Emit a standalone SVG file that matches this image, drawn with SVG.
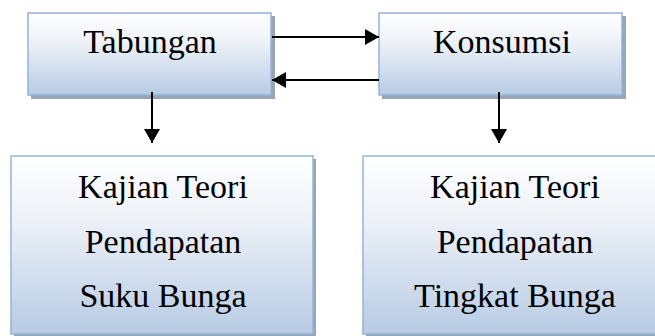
<svg xmlns="http://www.w3.org/2000/svg" width="655" height="336" viewBox="0 0 655 336">
<style>
.box{fill:url(#g);stroke:#95B3D7;stroke-width:1.5}
.sh{fill:#97A5B8}
.t{font-family:"Liberation Serif","Noto Serif","DejaVu Serif",Tinos,"Times New Roman",Times,FreeSerif,serif;font-size:34px;fill:#000;text-anchor:middle}
.c{stroke:#000;stroke-width:2;fill:none}
</style>
<defs>
<linearGradient id="g" x1="0" y1="0" x2="0" y2="1">
<stop offset="0" stop-color="#FFFFFF"/>
<stop offset="0.35" stop-color="#EEF2F8"/>
<stop offset="1" stop-color="#B7CBE4"/>
</linearGradient>
<marker id="a" viewBox="0 0 14 16" refX="14" refY="8" markerWidth="14" markerHeight="16" markerUnits="userSpaceOnUse" orient="auto">
<path d="M0,0 L14,8 L0,16 Z" fill="#000"/>
</marker>
</defs>
<g id="tabungan">
<rect class="sh" x="31" y="16" width="244" height="83"/>
<rect class="box" x="28" y="13" width="243" height="82"/>
<text class="t" x="150" y="53">Tabungan</text>
</g>
<g id="konsumsi">
<rect class="sh" x="382" y="16" width="244" height="83"/>
<rect class="box" x="379" y="13" width="243" height="82"/>
<text class="t" x="502" y="53">Konsumsi</text>
</g>
<g id="kajian-kiri">
<rect class="sh" x="14" y="159" width="302" height="180"/>
<rect class="box" x="11" y="156" width="302" height="178"/>
<text class="t" x="163" y="198">Kajian Teori</text>
<text class="t" x="163" y="253">Pendapatan</text>
<text class="t" x="163" y="307">Suku Bunga</text>
</g>
<g id="kajian-kanan">
<rect class="sh" x="366" y="159" width="302" height="180"/>
<rect class="box" x="363" y="156" width="302" height="178"/>
<text class="t" x="515" y="198">Kajian Teori</text>
<text class="t" x="515" y="253">Pendapatan</text>
<text class="t" x="515" y="307">Tingkat Bunga</text>
</g>
<g id="connectors">
<line class="c" x1="272" y1="37" x2="379" y2="37" marker-end="url(#a)"/>
<line class="c" x1="379" y1="80" x2="272" y2="80" marker-end="url(#a)"/>
<line class="c" x1="152" y1="92" x2="152" y2="143" marker-end="url(#a)"/>
<line class="c" x1="499" y1="92" x2="499" y2="143" marker-end="url(#a)"/>
</g>
</svg>
